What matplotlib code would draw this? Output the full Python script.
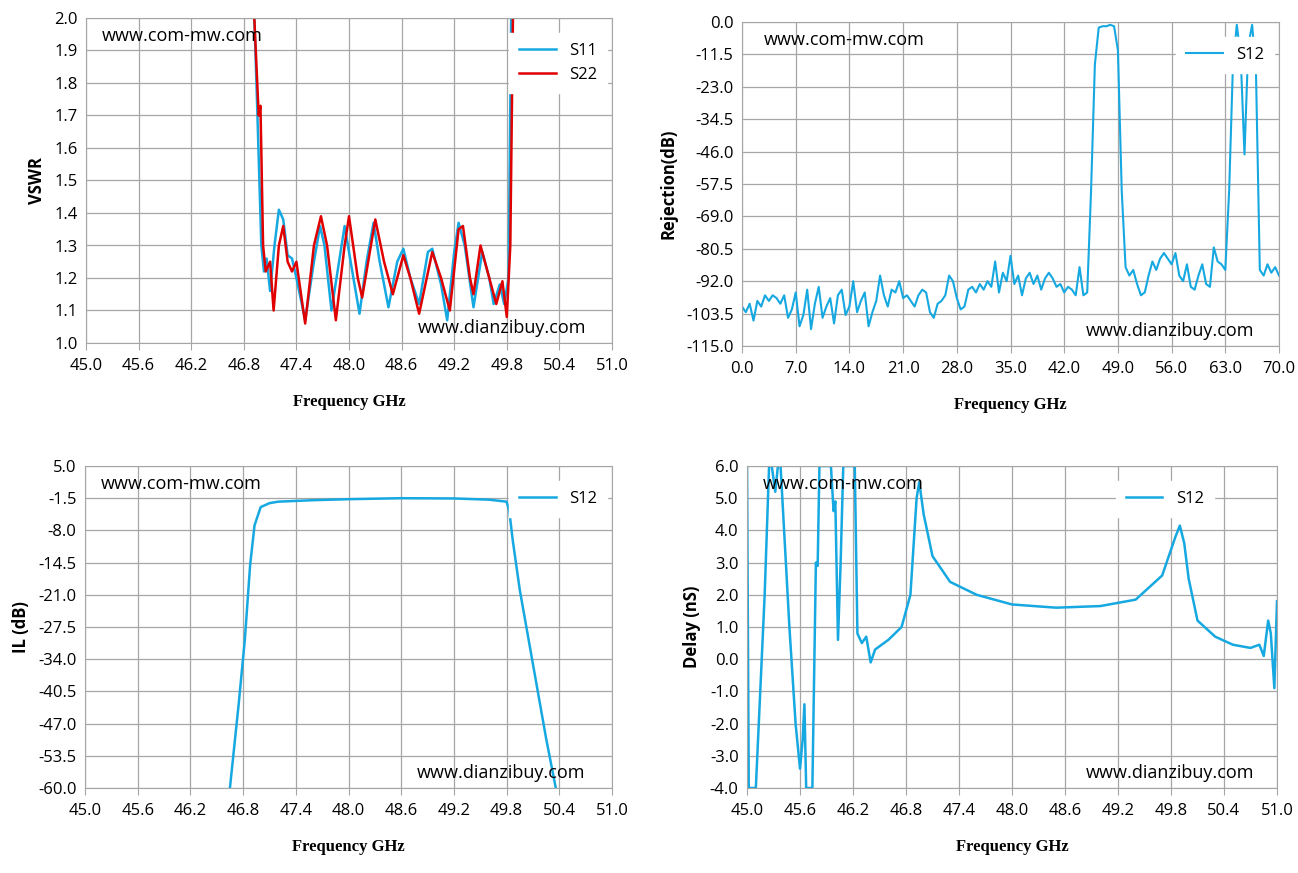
import matplotlib
matplotlib.use("Agg")
import matplotlib.pyplot as plt
import numpy as np

BLUE = "#16A8E0"
RED = "#E00000"

# VSWR
s11_f = [46.92,46.95,47.0,47.03,47.06,47.1,47.15,47.2,47.25,47.3,47.35,47.4,47.5,47.6,47.67,47.72,47.8,47.95,48.05,48.12,48.2,48.28,48.35,48.45,48.55,48.62,48.7,48.8,48.9,48.95,49.05,49.12,49.2,49.25,49.32,49.42,49.52,49.6,49.65,49.72,49.77,49.82,49.85]
s11_v = [2.0,1.75,1.3,1.22,1.26,1.16,1.3,1.41,1.38,1.27,1.26,1.2,1.07,1.25,1.36,1.3,1.1,1.36,1.2,1.09,1.25,1.37,1.25,1.11,1.25,1.29,1.2,1.12,1.28,1.29,1.18,1.07,1.28,1.37,1.3,1.11,1.28,1.2,1.12,1.18,1.12,1.2,2.0]
s22_f = [46.92,46.97,46.99,47.02,47.05,47.1,47.14,47.2,47.25,47.3,47.35,47.4,47.5,47.6,47.68,47.75,47.85,47.95,48.0,48.1,48.15,48.3,48.4,48.5,48.62,48.7,48.8,48.95,49.05,49.15,49.25,49.3,49.38,49.42,49.5,49.6,49.68,49.75,49.8,49.84,49.87]
s22_v = [2.0,1.7,1.73,1.3,1.22,1.25,1.1,1.3,1.36,1.25,1.22,1.25,1.06,1.3,1.39,1.3,1.07,1.3,1.39,1.2,1.14,1.38,1.25,1.15,1.27,1.2,1.09,1.28,1.2,1.1,1.35,1.36,1.2,1.15,1.3,1.2,1.12,1.19,1.08,1.3,2.0]

# Rejection
rej_f = [0,0.5,1,1.5,2,2.5,3,3.5,4,4.5,5,5.5,6,6.5,7,7.5,8,8.5,9,9.5,10,10.5,11,11.5,12,12.5,13,13.5,14,14.5,15,15.5,16,16.5,17,17.5,18,18.5,19,19.5,20,20.5,21,21.5,22,22.5,23,23.5,24,24.5,25,25.5,26,26.5,27,27.5,28,28.5,29,29.5,30,30.5,31,31.5,32,32.5,33,33.5,34,34.5,35,35.5,36,36.5,37,37.5,38,38.5,39,39.5,40,40.5,41,41.5,42,42.5,43,43.5,44,44.5,45,45.5,46,46.5,47,47.5,48,48.5,49,49.5,50,50.5,51,51.5,52,52.5,53,53.5,54,54.5,55,55.5,56,56.5,57,57.5,58,58.5,59,59.5,60,60.5,61,61.5,62,62.5,63,63.5,64,64.5,65,65.5,66,66.5,67,67.5,68,68.5,69,69.5,70]
rej_v = [-101,-103,-100,-106,-99,-101,-97,-99,-97,-98,-100,-97,-105,-102,-96,-108,-104,-95,-109,-100,-94,-105,-101,-98,-107,-97,-95,-104,-101,-92,-103,-99,-96,-108,-103,-99,-90,-97,-101,-95,-96,-92,-98,-97,-99,-101,-97,-95,-96,-103,-105,-100,-99,-97,-90,-92,-98,-102,-101,-95,-94,-96,-93,-95,-92,-94,-85,-96,-89,-92,-83,-93,-90,-97,-91,-89,-93,-90,-95,-91,-89,-91,-94,-93,-96,-94,-95,-97,-87,-97,-96,-60,-15,-2,-1.5,-1.5,-1,-1.5,-10,-60,-87,-90,-88,-93,-97,-96,-90,-85,-88,-84,-82,-84,-86,-82,-90,-92,-86,-94,-95,-90,-86,-93,-94,-80,-85,-86,-88,-60,-15,-1,-12,-47,-8,-1,-18,-88,-90,-86,-89,-87,-90]

# IL
il_f = [46.65,46.75,46.82,46.88,46.93,47.0,47.1,47.2,47.6,48.0,48.6,49.2,49.6,49.8,49.83,49.87,49.95,50.05,50.15,50.25,50.36]
il_v = [-60,-43,-30,-15,-7,-3.3,-2.5,-2.2,-1.9,-1.7,-1.5,-1.55,-1.8,-2.2,-4,-10,-20,-30,-40,-50,-60]

# Delay
dl_f = [45.0,45.02,45.05,45.1,45.15,45.2,45.25,45.28,45.32,45.35,45.38,45.42,45.48,45.55,45.6,45.63,45.65,45.67,45.69,45.74,45.78,45.8,45.82,45.84,45.92,45.95,45.98,46.0,46.03,46.06,46.09,46.12,46.18,46.22,46.25,46.3,46.35,46.4,46.45,46.6,46.75,46.85,46.92,46.95,47.0,47.1,47.3,47.6,48.0,48.5,49.0,49.4,49.7,49.85,49.9,49.95,50.0,50.1,50.3,50.5,50.6,50.7,50.8,50.85,50.9,50.93,50.97,51.0]
dl_v = [6,-4,-4,-4,-1,2,6,6,5.2,6,6,4,1,-2,-3.4,-2.5,-1.4,-4,-4,-4,3,2.9,6,6,6,6,4.6,4.9,0.6,3,6,6,6,6,0.8,0.5,0.7,-0.1,0.3,0.6,1.0,2,5.0,5.5,4.5,3.2,2.4,2.0,1.7,1.6,1.65,1.85,2.6,3.8,4.15,3.6,2.5,1.2,0.7,0.45,0.4,0.35,0.45,0.1,1.2,0.8,-0.9,1.8]

plt.rcParams['font.family'] = ['Open Sans', 'DejaVu Sans']
fig = plt.figure(figsize=(12.98, 8.73), dpi=100)
W, H = 1298, 873

def mkax(x0, y0, x1, y1):
    return fig.add_axes([x0/W, 1-y1/H, (x1-x0)/W, (y1-y0)/H])

def style(ax, xt, yt, xfmt, yfmt, ylabel):
    ax.set_xticks(xt); ax.set_yticks(yt)
    ax.set_xticklabels([xfmt % v for v in xt], fontsize=12)
    ax.set_yticklabels([yfmt % v for v in yt], fontsize=12)
    ax.set_xlim(xt[0], xt[-1]); ax.set_ylim(min(yt), max(yt))
    ax.grid(True, color="#A6A6A6", lw=0.9)
    for s in ax.spines.values():
        s.set_color("#A6A6A6")
    ax.tick_params(axis="x", length=5, color="#A6A6A6", pad=6)
    ax.tick_params(axis="y", length=0, pad=6)
    ax.set_xlabel("Frequency GHz", fontsize=12, fontweight="bold", family="Liberation Serif", labelpad=14)
    ax.set_ylabel(ylabel, fontsize=12, fontweight="bold", labelpad=6)

def leg(ax, loc_xy):
    l = ax.legend(loc="upper right", bbox_to_anchor=loc_xy, frameon=True, fontsize=12, handlelength=2.2)
    l.get_frame().set_edgecolor("white"); l.get_frame().set_alpha(1); l.get_frame().set_boxstyle("square", pad=0.2)

# top-left
ax = mkax(86, 18, 612, 343)
ax.plot(s11_f, s11_v, color=BLUE, lw=1.8, label="S11")
ax.plot(s22_f, s22_v, color=RED, lw=1.8, label="S22")
style(ax, np.round(np.arange(45, 51.01, 0.6), 1), np.round(np.arange(1.0, 2.01, 0.1), 1), "%.1f", "%.1f", "VSWR")
leg(ax, (1.0, 0.97))
ax.text(0.03, 0.93, "www.com-mw.com", transform=ax.transAxes, fontsize=13)
ax.text(0.63, 0.03, "www.dianzibuy.com", transform=ax.transAxes, fontsize=13)

# top-right
ax = mkax(742, 22, 1279, 346)
ax.plot(rej_f, rej_v, color=BLUE, lw=1.5, label="S12")
style(ax, np.arange(0, 70.01, 7.0), np.round(np.arange(-115, 0.01, 11.5), 1), "%.1f", "%.1f", "Rejection(dB)")
leg(ax, (1.0, 0.97))
ax.text(0.04, 0.93, "www.com-mw.com", transform=ax.transAxes, fontsize=13)
ax.text(0.64, 0.03, "www.dianzibuy.com", transform=ax.transAxes, fontsize=13)

# bottom-left
ax = mkax(85, 466, 612, 788)
ax.plot(il_f, il_v, color=BLUE, lw=1.8, label="S12")
style(ax, np.round(np.arange(45, 51.01, 0.6), 1), np.round(np.arange(-60, 5.01, 6.5), 1), "%.1f", "%.1f", "IL (dB)")
leg(ax, (1.0, 0.97))
ax.text(0.03, 0.93, "www.com-mw.com", transform=ax.transAxes, fontsize=13)
ax.text(0.63, 0.03, "www.dianzibuy.com", transform=ax.transAxes, fontsize=13)

# bottom-right
ax = mkax(747, 466, 1277, 788)
ax.plot(dl_f, dl_v, color=BLUE, lw=1.8, label="S12")
style(ax, np.round(np.arange(45, 51.01, 0.6), 1), np.arange(-4, 6.01, 1.0), "%.1f", "%.1f", "Delay (nS)")
leg(ax, (0.89, 0.97))
ax.text(0.03, 0.93, "www.com-mw.com", transform=ax.transAxes, fontsize=13)
ax.text(0.64, 0.03, "www.dianzibuy.com", transform=ax.transAxes, fontsize=13)

fig.savefig("out.png", dpi=100)
